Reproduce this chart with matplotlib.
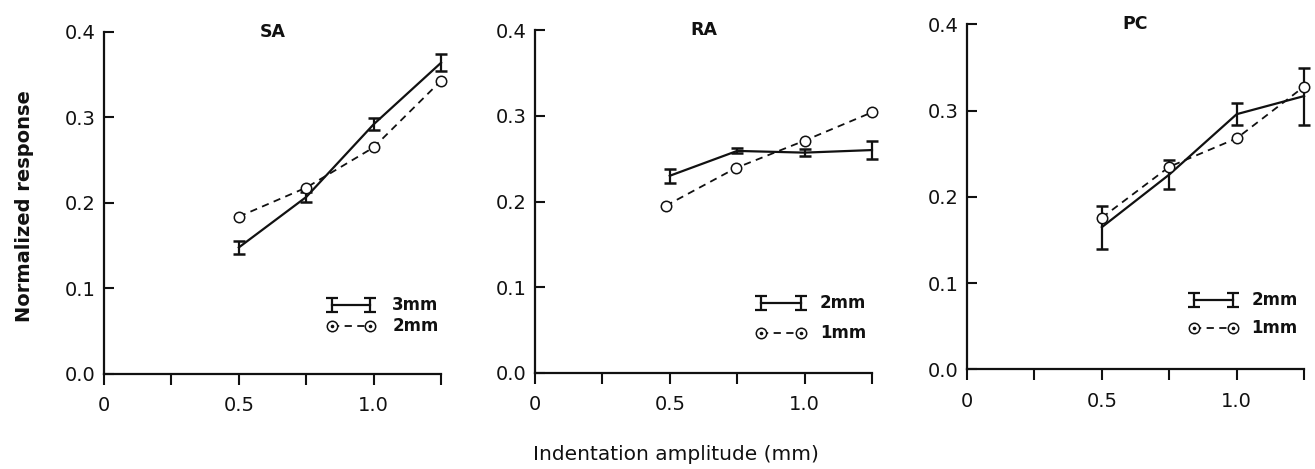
#!/usr/bin/env python3
"""Normalized response vs indentation amplitude for SA, RA and PC afferents."""

import matplotlib

matplotlib.use("Agg")
import matplotlib.pyplot as plt


AMPLITUDE = [0.5, 0.75, 1.0, 1.25]

# SA: 3mm probe (mean +/- error) and 2mm probe
SA_LARGE = [0.148, 0.207, 0.292, 0.364]
SA_LARGE_ERR = [0.008, 0.006, 0.007, 0.010]
SA_SMALL = [0.184, 0.218, 0.265, 0.343]

# RA: 2mm probe (mean +/- error) and 1mm probe
RA_LARGE = [0.230, 0.259, 0.257, 0.260]
RA_LARGE_ERR = [0.008, 0.003, 0.004, 0.010]
RA_SMALL_AMP = [0.485, 0.745, 1.0, 1.25]
RA_SMALL = [0.195, 0.239, 0.271, 0.304]

# PC: 2mm probe (mean +/- error) and 1mm probe
PC_LARGE = [0.165, 0.226, 0.296, 0.317]
PC_LARGE_ERR = [0.025, 0.017, 0.013, 0.033]
PC_SMALL = [0.176, 0.235, 0.268, 0.328]

PANELS = [
    ("SA", AMPLITUDE, SA_LARGE, SA_LARGE_ERR, AMPLITUDE, SA_SMALL, "3mm", "2mm"),
    ("RA", AMPLITUDE, RA_LARGE, RA_LARGE_ERR, RA_SMALL_AMP, RA_SMALL, "2mm", "1mm"),
    ("PC", AMPLITUDE, PC_LARGE, PC_LARGE_ERR, AMPLITUDE, PC_SMALL, "2mm", "1mm"),
]

X_TICKS = [0, 0.25, 0.5, 0.75, 1.0, 1.25]
X_TICK_LABELS = ["0", "", "0.5", "", "1.0", ""]
Y_TICKS = [0.0, 0.1, 0.2, 0.3, 0.4]

INK = "#111111"

# axes rectangles in figure fraction (left, bottom, width, height)
AXES_RECTS = [
    (0.0791, 0.2026, 0.2563, 0.7292),
    (0.4068, 0.2047, 0.2563, 0.7313),
    (0.7354, 0.2122, 0.2563, 0.7356),
]
KEY_POS = [
    (0.677, 0.789, 0.855, 0.202, 0.140),
    (0.670, 0.790, 0.846, 0.204, 0.117),
    (0.672, 0.788, 0.843, 0.201, 0.120),
]


def draw_circles(ax, x, y, **kw):
  ax.plot(x, y, marker="o", ms=7.5, mfc="white", mec=INK, mew=1.1,
          color=INK, **kw)
  ax.plot(x, y, ls="none", marker="o", ms=1.6, color=INK,
          transform=kw.get("transform", ax.transData))


def draw_key(ax, pos, solid_label, dashed_label):
  x0, x1, xt, ys, yd = pos
  ax.errorbar([x0, x1], [ys, ys], yerr=0.02, fmt="-", color=INK,
              lw=1.6, elinewidth=1.6, capsize=4, capthick=1.6,
              transform=ax.transAxes, clip_on=False)
  ax.text(xt, ys, solid_label, transform=ax.transAxes, ha="left",
          va="center", fontsize=12, fontweight="bold", color=INK)
  draw_circles(ax, [x0, x1], [yd, yd], ls=(0, (4, 3)), lw=1.3,
               transform=ax.transAxes, clip_on=False)
  ax.text(xt, yd, dashed_label, transform=ax.transAxes, ha="left",
          va="center", fontsize=12, fontweight="bold", color=INK)


def draw_panel(ax, panel, key_pos):
  title, xs, solid, err, xd, dashed, solid_label, dashed_label = panel
  ax.errorbar(xs, solid, yerr=err, fmt="-", color=INK, lw=1.6,
              elinewidth=1.6, capsize=4, capthick=1.8, clip_on=False,
              zorder=3)
  draw_circles(ax, xd, dashed, ls=(0, (4, 3)), lw=1.3, clip_on=False,
               zorder=4)

  ax.set_xlim(0, 1.25)
  ax.set_ylim(0, 0.4)
  ax.set_xticks(X_TICKS)
  ax.set_xticklabels(X_TICK_LABELS)
  ax.set_yticks(Y_TICKS)
  ax.set_yticklabels([f"{v:.1f}" for v in Y_TICKS])
  for side in ("top", "right"):
    ax.spines[side].set_visible(False)
  for side in ("left", "bottom"):
    ax.spines[side].set_linewidth(1.6)
    ax.spines[side].set_color(INK)
  ax.tick_params(axis="x", direction="out", length=8, width=1.5,
                 labelsize=14, pad=8, colors=INK)
  ax.tick_params(axis="y", direction="in", length=7, width=1.5,
                 labelsize=14, pad=6, colors=INK)
  ax.text(0.5, 1.0, title, transform=ax.transAxes, ha="center",
          va="center", fontsize=12.5, fontweight="bold", color=INK)
  draw_key(ax, key_pos, solid_label, dashed_label)


def main():
  fig = plt.figure(figsize=(13.15, 4.69), dpi=100)
  for rect, panel, key_pos in zip(AXES_RECTS, PANELS, KEY_POS):
    ax = fig.add_axes(rect)
    draw_panel(ax, panel, key_pos)

  fig.text(0.019, 0.56, "Normalized response", rotation=90, ha="center",
           va="center", fontsize=14, fontweight="bold", color=INK)
  fig.text(0.514, 0.03, "Indentation amplitude (mm)", ha="center",
           va="center", fontsize=14.5, color=INK)
  fig.savefig("out.png", dpi=100)
  plt.close(fig)


if __name__ == "__main__":
  main()
